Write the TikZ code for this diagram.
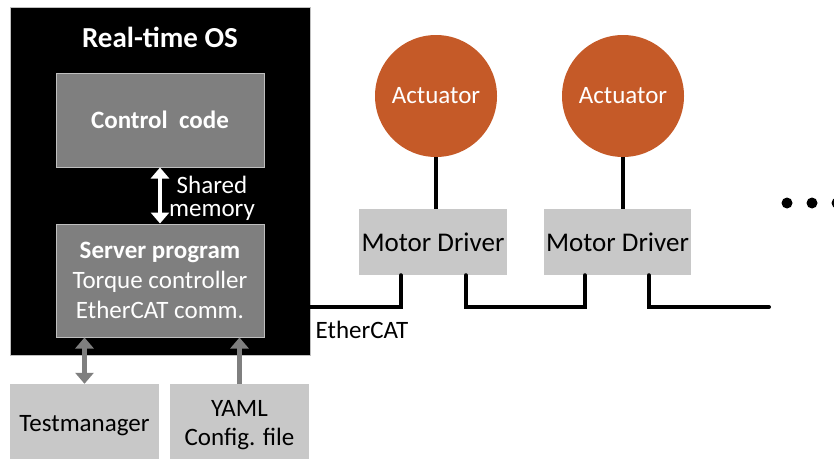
\documentclass[tikz,border=0pt]{standalone}
\usepackage{fontspec}
\setmainfont{Carlito}
\usetikzlibrary{arrows.meta}

\definecolor{rust}{HTML}{C55A28}
\definecolor{boxgray}{HTML}{7F7F7F}
\definecolor{lightbox}{HTML}{C8C8C8}
\definecolor{edgegray}{HTML}{BFBFBF}

\newcommand*{\busy}{307}
\newcommand*{\txt}{\fontsize{25}{30}\selectfont}

\begin{document}
\begin{tikzpicture}
[
	x=1pt,
	y=-1pt,
	every node/.style={font=\txt},
	osbox/.style={draw=edgegray,fill=black,line width=1pt,minimum width=300pt,minimum height=348pt,inner sep=0pt},
	progbox/.style={draw=edgegray,fill=boxgray,line width=1pt,minimum width=208pt,text=white,align=center,inner sep=0pt},
	hwbox/.style={fill=lightbox,align=center,inner sep=0pt},
	actuator/.style={circle,fill=rust,text=white,minimum size=122pt,inner sep=0pt},
	bus/.style={line width=4pt,line cap=round},
	stem/.style={line width=3.5pt},
	memarrow/.style={white,line width=4.5pt,{Triangle[width=18pt,length=11pt]}-{Triangle[width=18pt,length=11pt]}},
	garrow/.style={boxgray,line width=5pt}
]

	% page
	\path[use as bounding box,fill=white] (0,0) rectangle (834,458);

	% real-time OS
	\node[osbox] (os) at (160,181) {};
	\node[text=white,font=\fontsize{29}{32}\selectfont\bfseries] (ostitle) at (160,37) {Real-time OS};

	% programs
	\node[progbox,minimum height=94pt,font=\txt\bfseries] (ctrl) at (160,120) {Control\ \ code};
	\node[progbox,minimum height=113pt] (srv) at (160,280.5) {\textbf{Server program}\\Torque controller\\EtherCAT comm.};

	% shared memory
	\draw[memarrow] (ctrl.south) -- (srv.north);
	\node[text=white,align=center,font=\fontsize{25}{23}\selectfont] (shm) at (212,198) {Shared\\memory};

	% host side
	\node[hwbox,minimum width=149pt,minimum height=83pt] (tm) at (84.5,425.5) {Testmanager};
	\node[hwbox,minimum width=139pt,minimum height=83pt,font=\fontsize{25}{29}\selectfont] (yaml) at (239.5,425.5) {YAML\\Config. file};
	\draw[garrow,{Triangle[width=18pt,length=11pt]}-{Triangle[width=18pt,length=11pt]}] (tm.north) -- (tm.north |- srv.south);
	\draw[garrow,-{Triangle[width=18pt,length=11pt]}] (yaml.north) -- (yaml.north |- srv.south);

	% actuators
	\node[actuator] (act1) at (436,96) {Actuator};
	\node[actuator] (act2) at (623,96) {Actuator};

	% motor drivers
	\node[hwbox,minimum width=148pt,minimum height=66pt,font=\fontsize{27}{30}\selectfont] (md1) at (433,242) {Motor Driver};
	\node[hwbox,minimum width=147pt,minimum height=66pt,font=\fontsize{27}{30}\selectfont] (md2) at (617.5,242) {Motor Driver};

	\draw[stem] (act1.south) -- (act1.south |- md1.north);
	\draw[stem] (act2.south) -- (act2.south |- md2.north);

	% EtherCAT bus
	\coordinate (bus) at (310,\busy);
	\coordinate (busend) at (769,\busy);
	\draw[bus] (bus) -| ([xshift=42pt]md1.south west);
	\draw[bus] ([xshift=107pt]md1.south west) -- ++(0,32) -| ([xshift=41pt]md2.south west);
	\draw[bus] ([xshift=105pt]md2.south west) |- (busend);
	\node (ecat) at (362,330) {EtherCAT};

	% more drivers
	\foreach \x in {787,812,837} {
		\fill (\x,203) circle (5.5pt);
	}

\end{tikzpicture}
\end{document}
